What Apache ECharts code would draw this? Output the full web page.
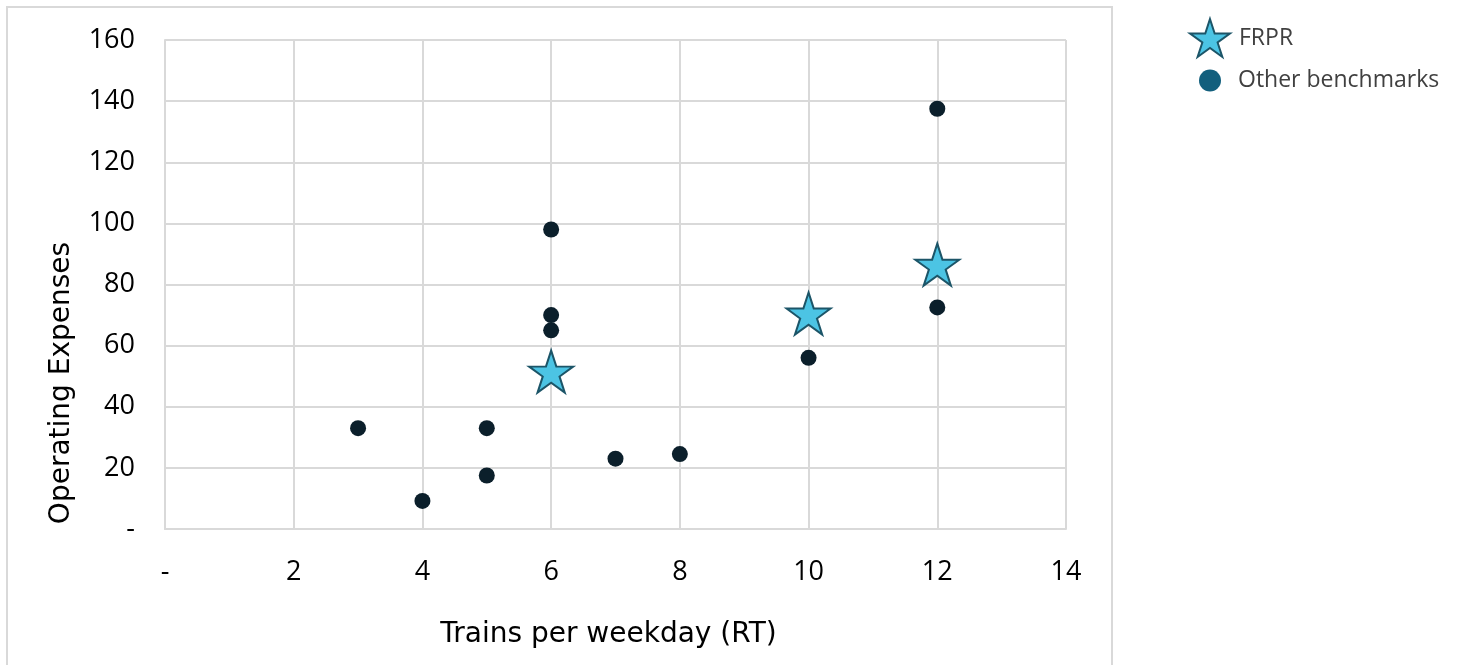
<!DOCTYPE html>
<html>
<head>
<meta charset="utf-8">
<script src="https://cdn.jsdelivr.net/npm/echarts@6/dist/echarts.min.js"></script>
<style>
  html, body { margin: 0; padding: 0; background: #fff; }
  #chart { width: 1457px; height: 665px; }
</style>
</head>
<body>
<div id="chart"></div>
<script>
// Operating expenses vs. weekday round-trip train count
const frprTrains = [6, 10, 12];
const frprExpenses = [51.5, 70.5, 86.5];

const benchTrains = [3, 4, 5, 5, 6, 6, 6, 7, 8, 10, 12, 12];
const benchExpenses = [33, 9.2, 33, 17.5, 98, 70, 65, 23, 24.5, 56, 137.5, 72.5];

const xTicks = [0, 2, 4, 6, 8, 10, 12, 14];
const yTicks = [0, 20, 40, 60, 80, 100, 120, 140, 160];

const STAR = 'path://M0,-1 L0.2245,-0.309 L0.951,-0.309 L0.363,0.118 L0.588,0.809 L0,0.382 L-0.588,0.809 L-0.363,0.118 L-0.951,-0.309 L-0.2245,-0.309 Z';

const zip = (xs, ys) => xs.map((x, i) => [x, ys[i]]);
const zeroDash = v => (v === 0 ? '-' : String(v));

const legendText = { fontFamily: 'Open Sans', fontSize: 23, color: '#404040' };

const chart = echarts.init(document.getElementById('chart'), null, { renderer: 'canvas' });

chart.setOption({
  backgroundColor: '#ffffff',
  animation: false,
  grid: { left: 165, top: 40, right: 391, bottom: 136, containLabel: false },
  graphic: [
    {
      type: 'rect',
      shape: { x: 7, y: 7, width: 1105, height: 700 },
      style: { fill: 'none', stroke: '#d9d9d9', lineWidth: 2 },
      silent: true
    },
    {
      type: 'text',
      x: 62, y: 383,
      rotation: Math.PI / 2,
      style: {
        text: 'Operating Expenses',
        font: '28px "DejaVu Sans"',
        fill: '#000',
        align: 'center',
        verticalAlign: 'middle'
      }
    }
  ],
  legend: [
    {
      left: 1184,
      top: 13,
      itemWidth: 40,
      itemHeight: 38,
      itemGap: 0,
      textStyle: Object.assign({ padding: [0, 0, 0, 4] }, legendText),
      data: [
        { name: 'FRPR', icon: STAR, itemStyle: { color: '#4cc4e4', borderColor: '#1c5568', borderWidth: 2 } }
      ]
    },
    {
      left: 1194,
      top: 64,
      itemWidth: 22,
      itemHeight: 22,
      itemGap: 0,
      textStyle: Object.assign({ padding: [0, 0, 12, 12] }, legendText),
      data: [
        { name: 'Other benchmarks', icon: 'circle', itemStyle: { color: '#125f7d', borderWidth: 0 } }
      ]
    }
  ],
  xAxis: {
    type: 'value',
    min: 0, max: 14, interval: 2,
    name: 'Trains per weekday (RT)',
    nameLocation: 'middle',
    nameGap: 92,
    nameTextStyle: { fontFamily: 'DejaVu Sans', fontSize: 28, color: '#000', padding: [0, 14, 0, 0] },
    axisLine: { show: true, lineStyle: { color: '#d9d9d9', width: 2 } },
    axisTick: { show: false },
    splitLine: { show: true, lineStyle: { color: '#d9d9d9', width: 2 } },
    axisLabel: {
      margin: 30,
      fontFamily: 'Open Sans', fontSize: 27, color: '#000',
      formatter: v => (xTicks.includes(v) ? zeroDash(v) : '')
    }
  },
  yAxis: {
    type: 'value',
    min: 0, max: 160, interval: 20,
    axisLine: { show: true, lineStyle: { color: '#d9d9d9', width: 2 } },
    axisTick: { show: false },
    splitLine: { show: true, lineStyle: { color: '#d9d9d9', width: 2 } },
    axisLabel: {
      margin: 30,
      fontFamily: 'Open Sans', fontSize: 27, color: '#000',
      formatter: v => (yTicks.includes(v) ? zeroDash(v) : '')
    }
  },
  series: [
    {
      name: 'Other benchmarks',
      type: 'scatter',
      symbol: 'circle',
      symbolSize: 16,
      itemStyle: { color: '#0b1f2b', opacity: 1 },
      data: zip(benchTrains, benchExpenses),
      z: 2
    },
    {
      name: 'FRPR',
      type: 'scatter',
      symbol: STAR,
      symbolSize: [44, 42],
      itemStyle: { color: '#4cc4e4', borderColor: '#1c5568', borderWidth: 2, opacity: 1 },
      data: zip(frprTrains, frprExpenses),
      z: 3
    }
  ]
});
</script>
</body>
</html>
